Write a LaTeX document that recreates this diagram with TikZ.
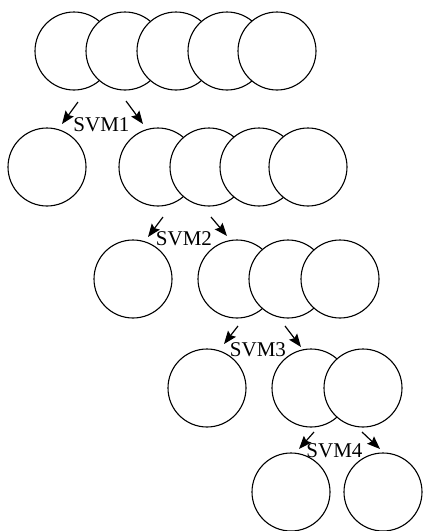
\documentclass[tikz,border=0pt]{standalone}
\usepackage{fontspec}
\setmainfont{Liberation Serif}
\usetikzlibrary{arrows.meta}
\begin{document}
\begin{tikzpicture}[x=1pt,y=-1pt,
  ball/.style={circle,draw,fill=white,line width=1.1pt,minimum size=78pt,inner sep=0pt},
  arr/.style={line width=1.2pt,-{Stealth[length=13pt,width=10pt,inset=2pt]}},
  lab/.style={font=\fontsize{21}{21}\selectfont,inner sep=0pt}]
\useasboundingbox (0,0) rectangle (424,531);

% level 1: five overlapping classes
\node[ball] (a1) at (74,51) {};
\node[ball] (a2) at (125,51) {};
\node[ball] (a3) at (176,51) {};
\node[ball] (a4) at (227,51) {};
\node[ball] (a5) at (277,51) {};

% level 2
\node[ball] (b0) at (47,167) {};
\node[ball] (b1) at (158,167) {};
\node[ball] (b2) at (209,167) {};
\node[ball] (b3) at (259,167) {};
\node[ball] (b4) at (308,167) {};

% level 3
\node[ball] (c0) at (133,279) {};
\node[ball] (c1) at (237,279) {};
\node[ball] (c2) at (288,279) {};
\node[ball] (c3) at (340,279) {};

% level 4
\node[ball] (d0) at (207,388) {};
\node[ball] (d1) at (311,388) {};
\node[ball] (d2) at (363,388) {};

% level 5
\node[ball] (e1) at (291,492) {};
\node[ball] (e2) at (383,492) {};

% split arrows
\coordinate (s1l) at (78,102);  \coordinate (t1l) at (62,124);
\coordinate (s1r) at (126,101); \coordinate (t1r) at (143,124);
\coordinate (s2l) at (163,217); \coordinate (t2l) at (148,237);
\coordinate (s2r) at (211,217); \coordinate (t2r) at (227,236);
\coordinate (s3l) at (238,326); \coordinate (t3l) at (224,344);
\coordinate (s3r) at (285,326); \coordinate (t3r) at (301,347);
\coordinate (s4l) at (314,432); \coordinate (t4l) at (299,449);
\coordinate (s4r) at (362,432); \coordinate (t4r) at (380,449);

\draw[arr] (s1l) -- (t1l);
\draw[arr] (s1r) -- (t1r);
\draw[arr] (s2l) -- (t2l);
\draw[arr] (s2r) -- (t2r);
\draw[arr] (s3l) -- (t3l);
\draw[arr] (s3r) -- (t3r);
\draw[arr] (s4l) -- (t4l);
\draw[arr] (s4r) -- (t4r);

% classifier labels
\node[lab] (l1) at (101.5,124.5) {SVM1};
\node[lab] (l2) at (184,239) {SVM2};
\node[lab] (l3) at (258,349.5) {SVM3};
\node[lab] (l4) at (334.5,450.5) {SVM4};
\end{tikzpicture}
\end{document}
